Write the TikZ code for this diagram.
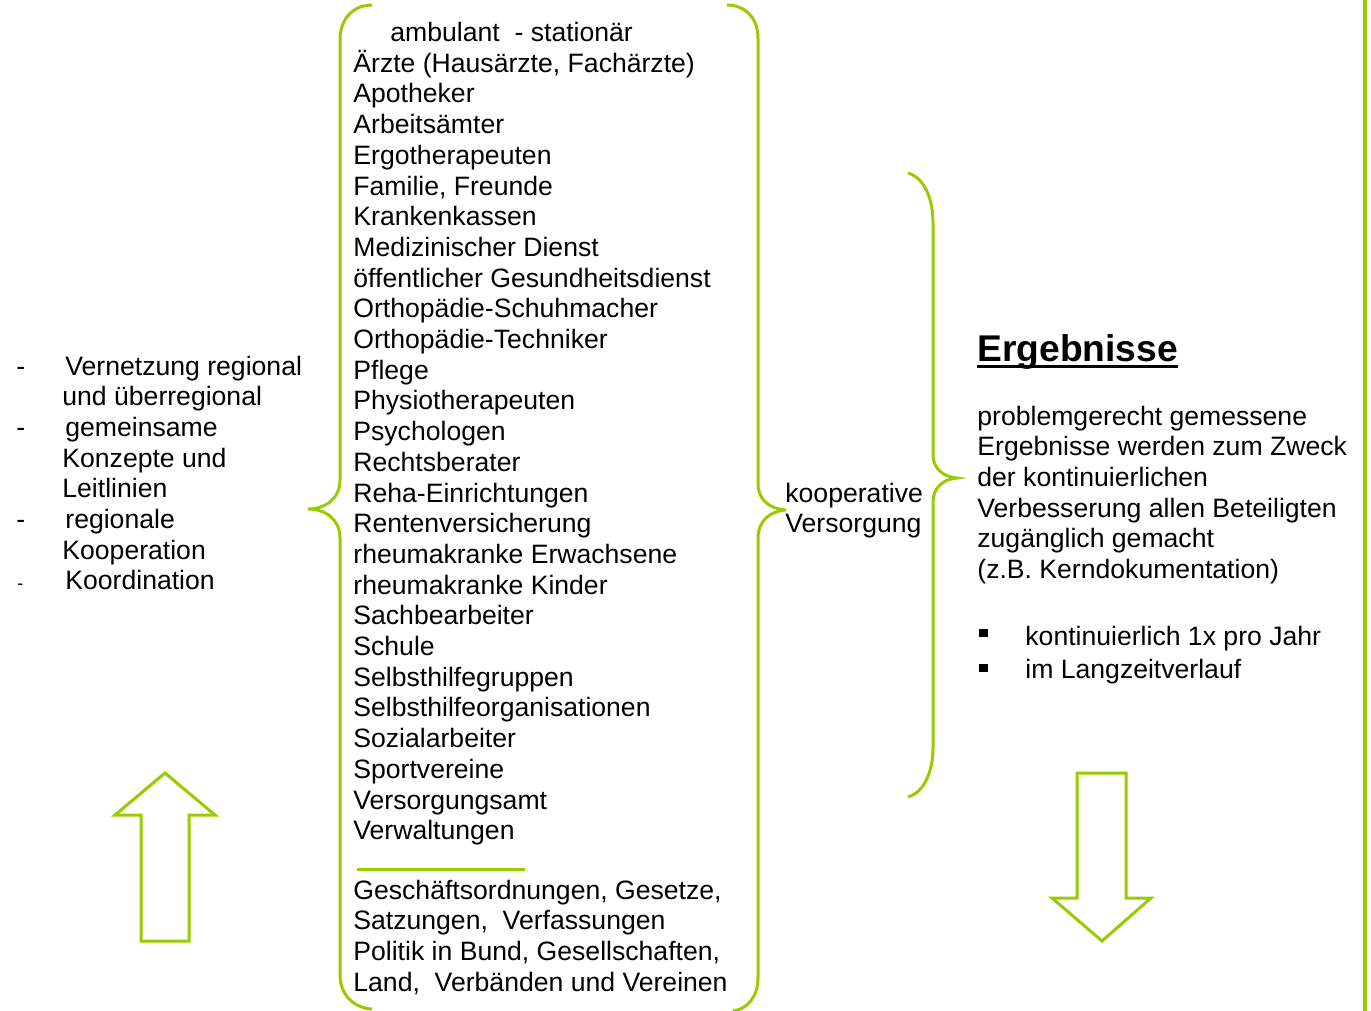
\documentclass[tikz,border=0pt]{standalone}
\usepackage{fontspec}
\setmainfont{Liberation Sans}
\usepackage{xcolor}
\definecolor{lime}{RGB}{153,204,0}
\tikzset{
  txt/.style={anchor=base west, inner sep=0pt, font=\fontsize{13.3}{15.35}\selectfont},
  grn/.style={draw=lime, line width=1.5pt, line join=miter},
  sq/.style={fill=black, minimum size=4.4pt, inner sep=0pt},
}

\begin{document}
\begin{tikzpicture}[x=0.5pt, y=-0.5pt]
  \useasboundingbox (0,0) rectangle (1371,1011);
  % left column
  \node[txt] (d1) at (16,375) {-};
  \node[txt] (d2) at (16,436.4) {-};
  \node[txt] (d3) at (16,528.5) {-};
  \node[txt, font=\fontsize{9}{10}\selectfont] (d4) at (17,589.9) {-};
  \foreach \x/\y/\t [count=\i] in {65/375/Vernetzung regional, 62/405.7/und überregional,
      65/436.4/gemeinsame, 62/467.1/Konzepte und, 62/497.8/Leitlinien,
      65/528.5/regionale, 62/559.2/Kooperation, 65/589.9/Koordination}
    \node[txt] (l\i) at (\x,\y) {\t};
  % middle column
  \node[txt] (m0) at (390,41.5) {ambulant\ \ - stationär};
  \foreach \t [count=\i] in {{Ärzte (Hausärzte, Fachärzte)}, Apotheker, Arbeitsämter,
      Ergotherapeuten, {Familie, Freunde}, Krankenkassen, Medizinischer Dienst,
      öffentlicher Gesundheitsdienst, Orthopädie-Schuhmacher, Orthopädie-Techniker,
      Pflege, Physiotherapeuten, Psychologen, Rechtsberater, Reha-Einrichtungen,
      Rentenversicherung, rheumakranke Erwachsene, rheumakranke Kinder,
      Sachbearbeiter, Schule, Selbsthilfegruppen, Selbsthilfeorganisationen,
      Sozialarbeiter, Sportvereine, Versorgungsamt, Verwaltungen}
    \node[txt] (m\i) at (353,{41.5+30.7*\i}) {\t};
  \draw[grn] (357,869) -- (525,869);
  \foreach \t [count=\i from 0] in {{Geschäftsordnungen, Gesetze,}, {Satzungen,\ \ Verfassungen},
      {Politik in Bund, Gesellschaften,}, {Land,\ \ Verbänden und Vereinen}}
    \node[txt] (g\i) at (353,{899+30.7*\i}) {\t};
  % braces
  \draw[grn] (372,5) .. controls (354,5) and (340,18) .. (340,40) -- (340,480)
    .. controls (340,498) and (326,509) .. (308,509)
    .. controls (326,509) and (340,520) .. (340,538) -- (340,975)
    .. controls (340,995) and (354,1008) .. (372,1009);
  \draw[grn] (727,5) .. controls (745,5) and (758,18) .. (758,38) -- (758,484)
    .. controls (758,500) and (770,509) .. (786,510)
    .. controls (770,511) and (758,521) .. (758,538) -- (758,978)
    .. controls (758,996) and (748,1009) .. (733,1011);
  \draw[grn] (908,173) .. controls (925,178) and (933,200) .. (933,222) -- (933,455)
    .. controls (933,468) and (943,477) .. (957,478)
    .. controls (943,479) and (933,488) .. (933,502) -- (933,748)
    .. controls (933,770) and (925,792) .. (908,797);
  \node[txt] (koop) at (785,502) {kooperative};
  \node[txt] (vers) at (785,532) {Versorgung};
  % right column
  \node[anchor=base west, inner sep=0pt, font=\fontsize{18.6}{22}\selectfont\bfseries] (erg)
    at (977,361) {Ergebnisse};
  \draw[line width=1.3pt] ([yshift=-2.6pt]erg.base west) -- ([yshift=-2.6pt]erg.base east);
  \foreach \t [count=\i from 0] in {problemgerecht gemessene, Ergebnisse werden zum Zweck,
      der kontinuierlichen, Verbesserung allen Beteiligten, zugänglich gemacht,
      (z.B. Kerndokumentation)}
    \node[txt] (r\i) at (977,{425+30.7*\i}) {\t};
  \node[sq] (b1) at (983.5,633) {};
  \node[sq] (b2) at (983.5,668) {};
  \node[txt] (k1) at (1025,645) {kontinuierlich 1x pro Jahr};
  \node[txt] (k2) at (1025,678) {im Langzeitverlauf};
  \draw[draw=lime, line width=1.6pt] (1365,0) -- (1365,1011);
  % arrows
  \draw[grn] (165,773) -- (215,815) -- (189,815) -- (189,941) -- (141,941)
    -- (141,815) -- (115,815) -- cycle;
  \draw[grn] (1077,773) -- (1126,773) -- (1126,898) -- (1151,898) -- (1102,941)
    -- (1052,898) -- (1077,898) -- cycle;
\end{tikzpicture}
\end{document}
